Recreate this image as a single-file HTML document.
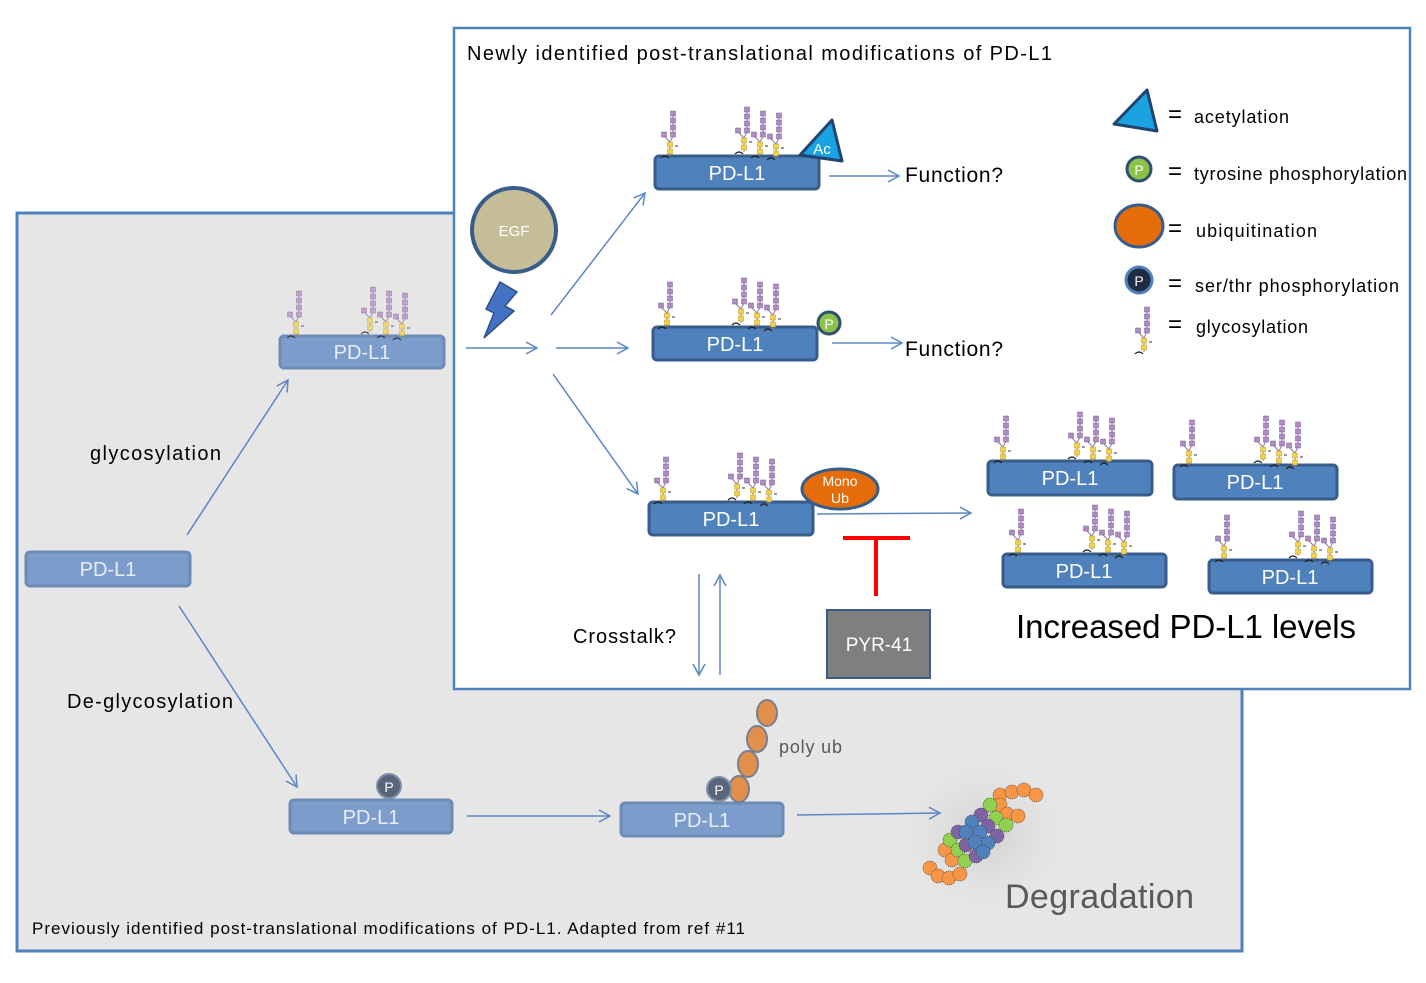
<!DOCTYPE html>
<html><head><style>
body{margin:0;background:#fff}
svg{display:block;font-family:"Liberation Sans","DejaVu Sans",sans-serif}
</style></head><body>
<svg width="1426" height="983" viewBox="0 0 1426 983" xmlns="http://www.w3.org/2000/svg">
<defs>
<marker id="ar" markerWidth="14" markerHeight="14" refX="12" refY="7" orient="auto" markerUnits="userSpaceOnUse">
<path d="M1,1 L12,7 L1,13" fill="none" stroke="#5b86c4" stroke-width="1.5"/></marker>
<radialGradient id="blur"><stop offset="0" stop-color="#c8c8c8" stop-opacity=".8"/><stop offset="1" stop-color="#e6e6e6" stop-opacity="0"/></radialGradient>
<g id="gl">
<path d="M0,0 V-14 M0,-14 L-6,-20 M0,-14 L3,-20 V-40" stroke="#8d7aa8" stroke-width="1" fill="none"/>
<rect x="-2.5" y="-7" width="5" height="5" fill="#f2d24a" stroke="#b89a20" stroke-width=".5"/>
<rect x="-2.5" y="-14" width="5" height="5" fill="#f2d24a" stroke="#b89a20" stroke-width=".5"/>
<rect x="-8.5" y="-24" width="5" height="5" fill="#b08cc4" stroke="#7a5a90" stroke-width=".5"/>
<rect x=".5" y="-24" width="5" height="5" fill="#b08cc4" stroke="#7a5a90" stroke-width=".5"/>
<rect x=".5" y="-31" width="5" height="5" fill="#b08cc4" stroke="#7a5a90" stroke-width=".5"/>
<rect x=".5" y="-38" width="5" height="5" fill="#b08cc4" stroke="#7a5a90" stroke-width=".5"/>
<rect x=".5" y="-45" width="5" height="5" fill="#b08cc4" stroke="#7a5a90" stroke-width=".5"/>
<path d="M5,-10 h3" stroke="#333" stroke-width="1"/>
<path d="M-9,2 q4,-4 8,0" stroke="#222" fill="none" stroke-width="1.2"/>
</g>
<g id="gl3"><use href="#gl" x="0"/><use href="#gl" x="16" y="4"/><use href="#gl" x="32" y="6"/></g>
<g id="prot"><use href="#gl" x="12" y="0"/><use href="#gl3" x="86" y="-4"/></g>
</defs>

<rect x="17" y="213" width="1225" height="738" fill="#e6e6e6" stroke="#4f81bd" stroke-width="3"/>
<ellipse cx="985" cy="835" rx="95" ry="85" fill="url(#blur)"/>
<rect x="454" y="28" width="956" height="661" fill="#fff" stroke="#4f81bd" stroke-width="2.5"/>

<g stroke="#5b86c4" stroke-width="1.5" fill="none" marker-end="url(#ar)">
<path d="M187,535 L288,380"/>
<path d="M179,606 L297,787"/>
<path d="M467,816 L610,816"/>
<path d="M797,815 L940,813"/>
<path d="M466,348 L537,348"/>
<path d="M556,348 L628,348"/>
<path d="M551,315 L645,193"/>
<path d="M553,374 L638,494"/>
<path d="M829,176 L899,176"/>
<path d="M832,343 L902,343"/>
<path d="M817,514 L971,513"/>
<path d="M699,574 L699,675"/>
<path d="M720,675 L720,575"/>
</g>

<g fill="#7c9ccb" stroke="#6d8bb5" stroke-width="3">
<rect x="280" y="336" width="164" height="32" rx="4"/>
<rect x="26" y="552" width="164" height="34" rx="4"/>
<rect x="290" y="800" width="162" height="33" rx="4"/>
<rect x="621" y="803" width="162" height="33" rx="4"/>
</g>
<use href="#prot" x="284" y="336" opacity=".75"/>
<g fill="#4f81bd" stroke="#385d8a" stroke-width="3">
<rect x="655" y="156" width="164" height="33" rx="4"/>
<rect x="653" y="327" width="164" height="33" rx="4"/>
<rect x="649" y="502" width="164" height="33" rx="4"/>
<rect x="988" y="461" width="164" height="34" rx="4"/>
<rect x="1174" y="465" width="163" height="34" rx="4"/>
<rect x="1003" y="554" width="163" height="33" rx="4"/>
<rect x="1209" y="560" width="163" height="33" rx="4"/>
</g>
<use href="#prot" x="658" y="156"/>
<use href="#prot" x="655" y="327"/>
<use href="#prot" x="651" y="502"/>
<use href="#prot" x="991" y="461"/>
<use href="#prot" x="1177" y="465"/>
<use href="#prot" x="1006" y="554"/>
<use href="#prot" x="1212" y="560"/>

<g fill="#fff" font-size="20" text-anchor="middle">
<text x="362" y="359" fill="#e8eef8">PD-L1</text>
<text x="108" y="576" fill="#e8eef8">PD-L1</text>
<text x="371" y="824" fill="#e8eef8">PD-L1</text>
<text x="702" y="827" fill="#e8eef8">PD-L1</text>
<text x="737" y="180">PD-L1</text>
<text x="735" y="351">PD-L1</text>
<text x="731" y="526">PD-L1</text>
<text x="1070" y="485">PD-L1</text>
<text x="1255" y="489">PD-L1</text>
<text x="1084" y="578">PD-L1</text>
<text x="1290" y="584">PD-L1</text>
</g>

<path d="M800,155 L832,120 L842,161 Z" fill="#1aa3e0" stroke="#22446e" stroke-width="3" stroke-linejoin="round"/>
<text x="822" y="154" font-size="15" fill="#fff" text-anchor="middle">Ac</text>
<circle cx="829" cy="323" r="11" fill="#8bc34a" stroke="#2f4f6f" stroke-width="3"/>
<text x="829" y="329" font-size="14" fill="#fff" text-anchor="middle">P</text>
<ellipse cx="840" cy="489" rx="38" ry="20" fill="#e46c0a" stroke="#385d8a" stroke-width="3"/>
<text x="840" y="486" font-size="14" fill="#fff" text-anchor="middle">Mono</text>
<text x="840" y="503" font-size="14" fill="#fff" text-anchor="middle">Ub</text>

<circle cx="514" cy="230" r="42" fill="#c4bd97" stroke="#385d8a" stroke-width="4"/>
<text x="514" y="236" font-size="15" fill="#fff" text-anchor="middle">EGF</text>
<path d="M500,282 L517,292 L505,306 L514,311 L484,338 L494,313 L486,309 Z" fill="#4472c4" stroke="#2f4f7f" stroke-width="1.5"/>

<path d="M843,538 H910 M876,538 V596" stroke="#ff0000" stroke-width="4" fill="none"/>
<rect x="827" y="610" width="103" height="68" fill="#7f7f7f" stroke="#385d8a" stroke-width="2"/>
<text x="879" y="651" font-size="19" fill="#fff" text-anchor="middle">PYR-41</text>

<circle cx="389" cy="786" r="12" fill="#59667a" stroke="#8090a8" stroke-width="2"/>
<text x="389" y="792" font-size="14" fill="#fff" text-anchor="middle">P</text>
<g fill="#e0904a" stroke="#7a7f90" stroke-width="2">
<ellipse cx="767" cy="713" rx="10" ry="13"/>
<ellipse cx="757" cy="739" rx="10" ry="13"/>
<ellipse cx="748" cy="764" rx="10" ry="13"/>
<ellipse cx="739" cy="789" rx="10" ry="13"/>
</g>
<circle cx="719" cy="789" r="12" fill="#59667a" stroke="#8090a8" stroke-width="2"/>
<text x="719" y="795" font-size="14" fill="#fff" text-anchor="middle">P</text>
<text x="779" y="753" font-size="18" fill="#595959" textLength="63">poly ub</text>

<g stroke="#333" stroke-width=".6" stroke-dasharray="1,1">
<g fill="#f79646">
<circle cx="1000" cy="795" r="7"/><circle cx="1012" cy="792" r="7"/><circle cx="1024" cy="790" r="7"/><circle cx="1036" cy="795" r="7"/>
<circle cx="1000" cy="805" r="7"/><circle cx="1007" cy="814" r="7"/><circle cx="1018" cy="816" r="7"/>
<circle cx="945" cy="850" r="7"/><circle cx="952" cy="860" r="7"/><circle cx="930" cy="868" r="7"/><circle cx="938" cy="876" r="7"/><circle cx="949" cy="878" r="7"/><circle cx="960" cy="874" r="7"/>
</g>
<g fill="#92d050">
<circle cx="990" cy="805" r="7"/><circle cx="996" cy="818" r="7"/><circle cx="1006" cy="825" r="7"/>
<circle cx="950" cy="840" r="7"/><circle cx="958" cy="850" r="7"/><circle cx="965" cy="861" r="7"/>
</g>
<g fill="#8064a2">
<circle cx="981" cy="815" r="7"/><circle cx="988" cy="826" r="7"/><circle cx="997" cy="836" r="7"/>
<circle cx="958" cy="832" r="7"/><circle cx="966" cy="845" r="7"/><circle cx="976" cy="856" r="7"/>
</g>
<g fill="#4f81bd">
<circle cx="972" cy="822" r="7"/><circle cx="980" cy="832" r="7"/><circle cx="988" cy="843" r="7"/>
<circle cx="966" cy="832" r="7"/><circle cx="975" cy="842" r="7"/><circle cx="983" cy="852" r="7"/>
</g>
</g>

<text x="467" y="60" font-size="20" fill="#000" textLength="585">Newly identified post-translational modifications of PD-L1</text>
<text x="905" y="182" font-size="21" fill="#000" textLength="98">Function?</text>
<text x="905" y="356" font-size="21" fill="#000" textLength="98">Function?</text>
<text x="573" y="643" font-size="20" fill="#000" textLength="103">Crosstalk?</text>
<text x="1016" y="638" font-size="33" fill="#000" textLength="340">Increased PD-L1 levels</text>
<text x="1005" y="908" font-size="34" fill="#595959" textLength="189">Degradation</text>
<text x="90" y="460" font-size="20" fill="#000" textLength="131">glycosylation</text>
<text x="67" y="708" font-size="20" fill="#000" textLength="166">De-glycosylation</text>
<text x="32" y="934" font-size="17" fill="#000" textLength="713">Previously identified post-translational modifications of PD-L1. Adapted from ref #11</text>

<path d="M1114,124 L1147,90 L1157,131 Z" fill="#1aa3e0" stroke="#22446e" stroke-width="3" stroke-linejoin="round"/>
<circle cx="1139" cy="169" r="12" fill="#8bc34a" stroke="#2f4f6f" stroke-width="3"/>
<text x="1139" y="175" font-size="14" fill="#fff" text-anchor="middle">P</text>
<ellipse cx="1139" cy="226" rx="24" ry="21" fill="#e46c0a" stroke="#385d8a" stroke-width="3"/>
<circle cx="1139" cy="280" r="13" fill="#1f2d40" stroke="#4f81bd" stroke-width="3"/>
<text x="1139" y="286" font-size="14" fill="#fff" text-anchor="middle">P</text>
<use href="#gl" x="1144" y="352"/>
<g font-size="18" fill="#000">
<text x="1168" y="122" font-size="24">=</text><text x="1194" y="123" textLength="95">acetylation</text>
<text x="1168" y="179" font-size="24">=</text><text x="1194" y="180" textLength="213">tyrosine phosphorylation</text>
<text x="1168" y="236" font-size="24">=</text><text x="1196" y="237" textLength="121">ubiquitination</text>
<text x="1168" y="291" font-size="24">=</text><text x="1195" y="292" textLength="204">ser/thr phosphorylation</text>
<text x="1168" y="332" font-size="24">=</text><text x="1196" y="333" textLength="112">glycosylation</text>
</g>
</svg>
</body></html>
